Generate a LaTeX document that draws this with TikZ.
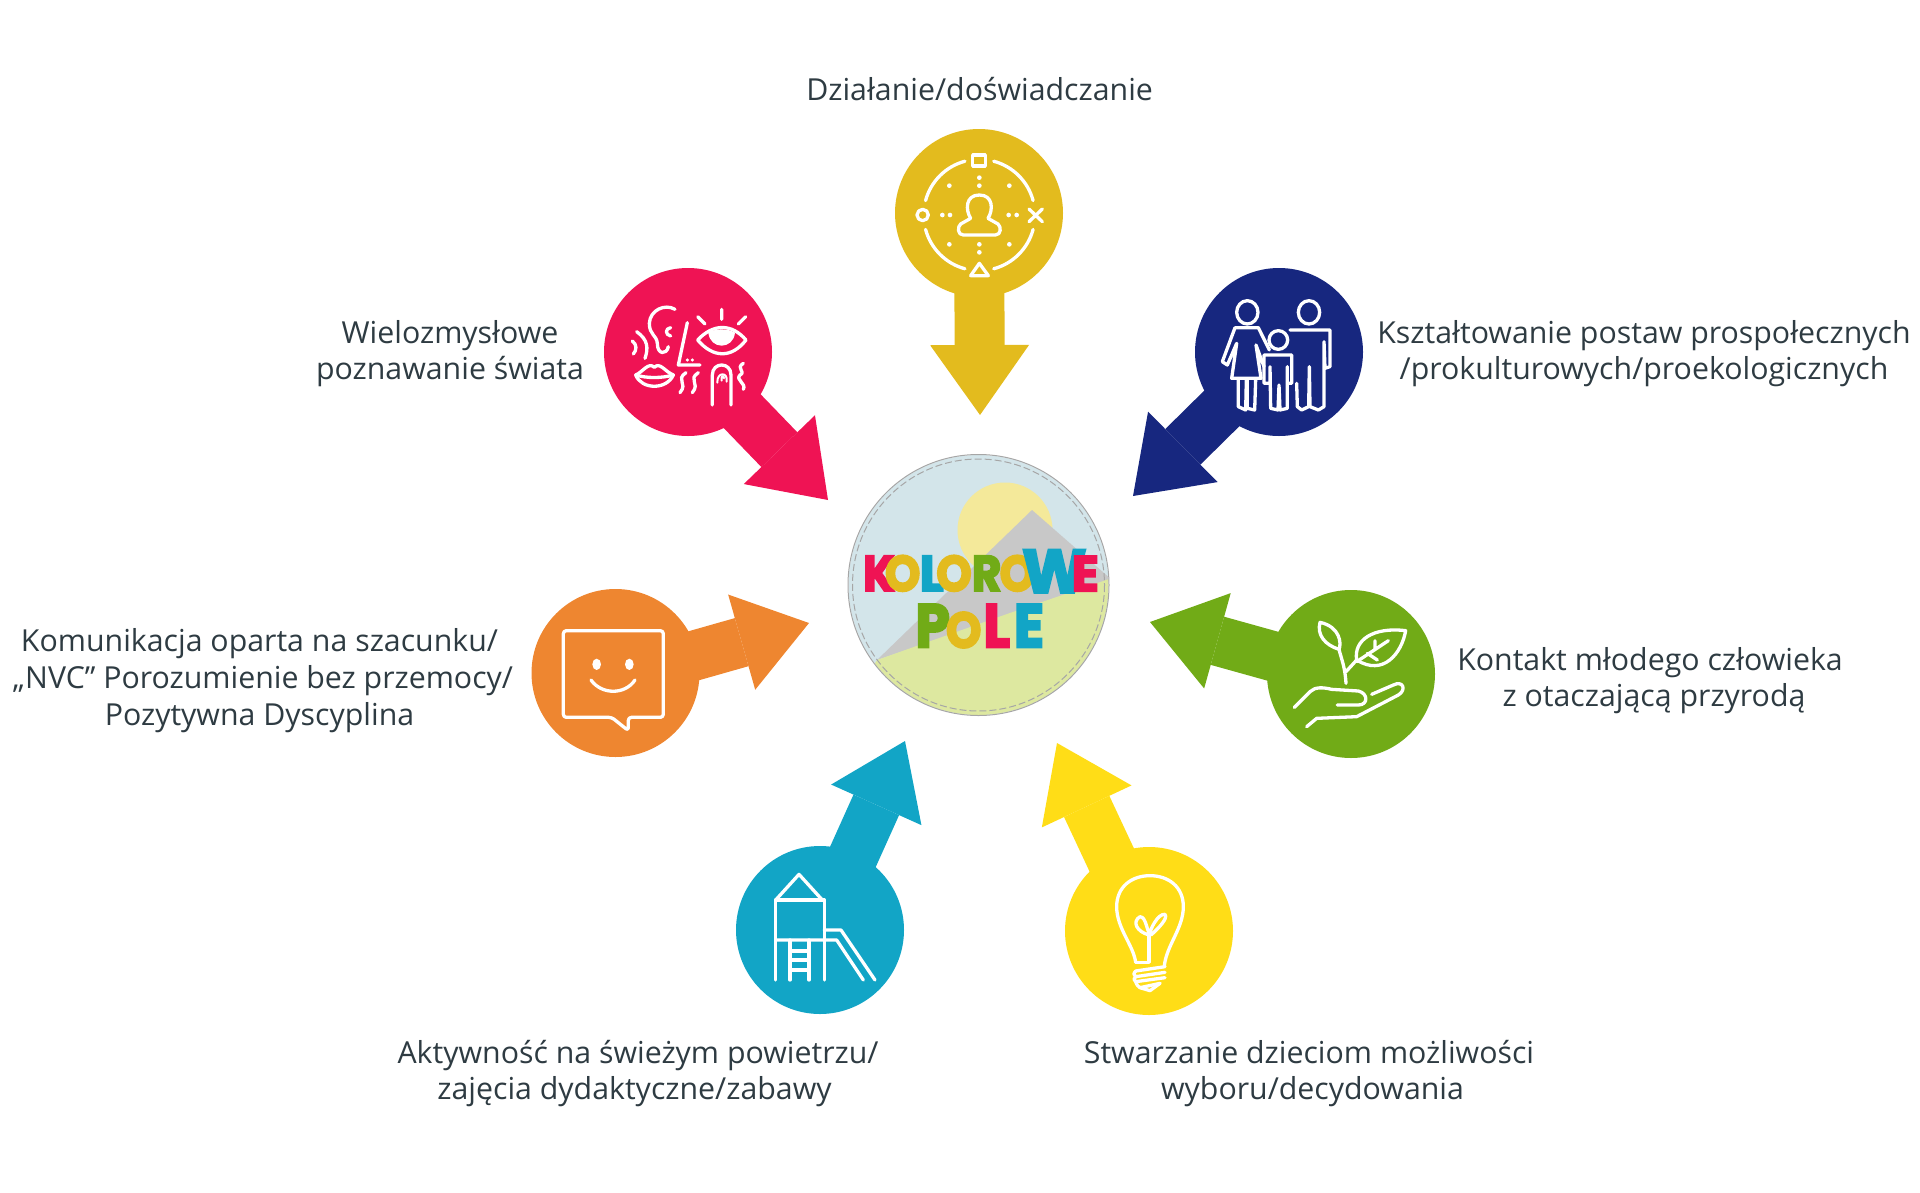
\documentclass[tikz,border=0pt]{standalone}
\usepackage{fontspec}
\setmainfont{Open Sans}
\newfontfamily\logofont[BoldFeatures={FakeBold=4}]{Poppins}
\usetikzlibrary{arrows.meta}
\definecolor{kolDzial}{HTML}{E3BB1E}
\definecolor{kolZmysly}{HTML}{EF1354}
\definecolor{kolPostawy}{HTML}{17277F}
\definecolor{kolPrzyroda}{HTML}{71AB17}
\definecolor{kolNvc}{HTML}{EE8630}
\definecolor{kolRuch}{HTML}{12A5C6}
\definecolor{kolWybor}{HTML}{FFDD17}
\definecolor{kolTekst}{HTML}{2E3B42}
\definecolor{logoNiebo}{HTML}{D3E5EA}
\definecolor{logoSlonce}{HTML}{F4E99A}
\definecolor{logoGora}{HTML}{C8C8C8}
\definecolor{logoLaka}{HTML}{DDE8A0}
\tikzset{
  kolo/.style={circle,minimum size=168pt,inner sep=0pt},
  strzala/.style={line width=50pt,-{Triangle[width=99pt,length=70pt,line width=0pt]}},
  opis/.style={align=center,inner sep=0pt,text=kolTekst,font=\fontsize{30.3}{36.7}\selectfont},
  ikona/.style={white,line width=3.3pt,line cap=round,line join=round},
  duza/.style={inner sep=0pt,font=\logofont\bfseries\fontsize{50}{50}\selectfont},
  dolna/.style={inner sep=0pt,font=\logofont\bfseries\fontsize{61}{61}\selectfont}
}
\begin{document}
\begin{tikzpicture}[x=1pt,y=-1pt]
  \useasboundingbox (0,0) rectangle (1920,1192);

  % arrows first, the discs lie over their tails
  \node[kolo] (dzial) at (979,213) {};
  \node[kolo] (zmysly) at (688,352) {};
  \node[kolo] (postawy) at (1279,352) {};
  \node[kolo] (przyroda) at (1351,674) {};
  \node[kolo] (nvc) at (615.5,673) {};
  \node[kolo] (ruch) at (820,930) {};
  \node[kolo] (wybor) at (1149,931) {};
  \coordinate (grotDzial) at (980,415);
  \coordinate (grotZmysly) at (828,500);
  \coordinate (grotPostawy) at (1133,496);
  \coordinate (grotPrzyroda) at (1150,622);
  \coordinate (grotNvc) at (809,623);
  \coordinate (grotRuch) at (905,741);
  \coordinate (grotWybor) at (1057,743);
  \draw[strzala,kolDzial] (dzial.center) -- (grotDzial);
  \draw[strzala,kolZmysly] ([xshift=-3pt]zmysly.center) -- (grotZmysly);
  \draw[strzala,kolPostawy] (postawy.center) -- (grotPostawy);
  \draw[strzala,kolPrzyroda] ([yshift=-4pt]przyroda.center) -- (grotPrzyroda);
  \draw[strzala,kolNvc] ([yshift=-5pt]nvc.center) -- (grotNvc);
  \draw[strzala,kolRuch] (ruch.center) -- (grotRuch);
  \draw[strzala,kolWybor] ([xshift=-4pt]wybor.center) -- (grotWybor);
  \fill[kolDzial] (dzial) circle (84);
  \fill[kolZmysly] (zmysly) circle (84);
  \fill[kolPostawy] (postawy) circle (84);
  \fill[kolPrzyroda] (przyroda) circle (84);
  \fill[kolNvc] (nvc) circle (84);
  \fill[kolRuch] (ruch) circle (84);
  \fill[kolWybor] (wybor) circle (84);

  % logo
  \begin{scope}
    \clip (978.5,585) circle (130);
    \fill[logoNiebo] (848,455) rectangle (1109,715);
    \fill[logoSlonce] (1005,530) circle (47.5);
    \fill[logoGora] (1032,510) -- (877,660) -- (1112,580) -- cycle;
    \fill[logoLaka] (877,660) -- (1007,614) -- (1112,578) -- (1112,720) -- (840,720) -- cycle;
  \end{scope}
  \node[circle,draw=black!35,line width=1pt,minimum size=261pt] (logo) at (978.5,585) {};
  \draw[black!35,line width=1pt,dash pattern=on 7pt off 3pt] (logo) circle (126);
  \begin{scope}[shift={(820,430)},scale=1/3]
    \node[duza,text=kolZmysly,xscale=.9] (k1) at (177,430) {K};
    \node[duza,text=kolDzial,xscale=.9] (o1) at (248,430) {O};
    \node[duza,text=kolRuch] (l1) at (335,430) {L};
    \node[duza,text=kolDzial,xscale=.9] (o2) at (402,430) {O};
    \node[duza,text=kolPrzyroda,xscale=.9] (r1) at (500,430) {R};
    \node[duza,text=kolDzial,xscale=.9] (o3) at (592,430) {O};
    \node[dolna,text=kolRuch] (w1) at (703,424) {W};
    \node[duza,text=kolZmysly] (e1) at (796,431) {E};
    \node[dolna,text=kolPrzyroda,xscale=.9] (p2) at (338,587) {P};
    \node[duza,text=kolDzial,xscale=.9] (o4) at (431,600) {O};
    \node[dolna,text=kolZmysly,xscale=.9] (l2) at (530,587) {L};
    \node[dolna,text=kolRuch,xscale=.9] (e2) at (627,587) {E};
  \end{scope}

  % icons, in the pixels of a 3x crop of each disc
  \begin{scope}[shift={(880,110)},scale=1/3,ikona]
    \draw (278,135) rectangle (316,168);
    \draw (298,460) -- (272,497) -- (325,497) -- cycle;
    \draw (128,315) circle (17);
    \draw (447,297) -- (487,335) (447,335) -- (487,297);
    \draw ([shift=(15:167)]298,315) arc (15:75:167);
    \draw ([shift=(105:167)]298,315) arc (105:165:167);
    \draw ([shift=(195:167)]298,315) arc (195:255:167);
    \draw ([shift=(285:167)]298,315) arc (285:345:167);
    \draw (272,325) .. controls (256,300) and (256,255) .. (298,255) .. controls (340,255) and (340,300) .. (324,325) -- (354,342) .. controls (364,350) and (364,375) .. (346,375) -- (250,375) .. controls (232,375) and (232,350) .. (242,342) -- cycle;
    \fill (208,227) circle (7) (388,227) circle (7) (208,403) circle (7) (388,403) circle (7);
    \fill (298,203) circle (7) (298,227) circle (7) (298,403) circle (7) (298,427) circle (7);
    \fill (187,315) circle (7) (210,315) circle (7) (386,315) circle (7) (410,315) circle (7);
  \end{scope}
  \begin{scope}[shift={(600,260)},scale=1/3,ikona]
    \draw (225,148) .. controls (195,130) and (150,150) .. (148,190) .. controls (148,225) and (170,225) .. (172,250) .. controls (172,285) and (200,285) .. (205,260);
    \draw (212,203) .. controls (195,205) and (195,225) .. (212,228);
    \draw (110,215) .. controls (145,240) and (145,265) .. (135,295);
    \draw (97,243) .. controls (112,255) and (110,270) .. (100,282);
    \draw (262,188) -- (235,315) -- (300,315);
    \fill (262,300) circle (5) (277,300) circle (5);
    \draw (293,240) .. controls (340,190) and (395,190) .. (438,240) .. controls (395,295) and (340,295) .. (293,240) -- cycle;
    \fill (325,218) .. controls (345,205) and (385,205) .. (405,218) .. controls (400,270) and (330,270) .. (325,218) -- cycle;
    \draw (365,148) -- (365,178) (293,170) -- (315,192) (437,170) -- (415,192);
    \draw (107,345) .. controls (130,335) and (145,305) .. (163,322) .. controls (180,305) and (195,335) .. (220,345) .. controls (200,390) and (125,390) .. (107,345) -- cycle;
    \draw (107,345) .. controls (140,355) and (185,355) .. (220,345);
    \draw (258,338) .. controls (225,360) and (265,368) .. (240,398);
    \draw (295,338) .. controls (262,360) and (302,368) .. (277,398);
    \draw (337,435) -- (337,345) .. controls (337,305) and (393,305) .. (393,345) -- (393,435);
    \draw[line width=2pt] (352,368) .. controls (350,335) and (385,335) .. (380,365);
    \draw[line width=2pt] (365,362) .. controls (362,345) and (372,345) .. (372,355);
    \draw (430,310) .. controls (405,325) and (440,335) .. (420,345) .. controls (405,360) and (440,370) .. (430,388);
  \end{scope}
  \begin{scope}[shift={(1190,260)},scale=1/3,ikona]
    \draw (172,157) ellipse (32 and 35);
    \draw (357,157) ellipse (32 and 35);
    \draw (265,240) circle (28);
    % mother
    \draw (135,203) -- (205,203) -- (238,270) (135,203) -- (97,305) -- (112,315) -- (140,250) -- (125,355) -- (213,355) -- (198,255) -- (222,320);
    \draw (145,358) -- (145,440) -- (167,450) -- (169,360) (172,360) -- (172,445) -- (194,450) -- (197,358);
    % father
    \draw (300,210) -- (420,210) -- (420,320) -- (405,325) -- (402,245) -- (402,440) -- (385,450) -- (360,440) -- (358,320) -- (356,440) -- (335,450) -- (322,440) -- (320,370);
    % child
    \draw (240,285) -- (305,285) -- (305,370) -- (292,370) -- (292,320) -- (292,445) -- (270,450) -- (267,375) -- (264,450) -- (242,445) -- (240,320) -- (240,370) -- (222,370) -- (222,285) -- cycle;
  \end{scope}
  \begin{scope}[shift={(1260,590)},scale=1/3,ikona]
    \draw (180,97) .. controls (240,110) and (245,160) .. (237,178) .. controls (195,165) and (170,135) .. (180,97) -- cycle;
    \draw (237,178) .. controls (245,210) and (255,230) .. (258,280);
    \draw (258,245) -- (290,210);
    \draw (290,210) .. controls (280,150) and (340,110) .. (437,122) .. controls (425,190) and (370,260) .. (290,210) -- cycle;
    \draw (290,215) -- (385,152) (345,152) -- (345,178) (322,190) -- (352,210);
    \draw (103,352) -- (150,305) .. controls (165,290) and (190,292) .. (215,298) -- (295,303) .. controls (325,310) and (325,345) .. (295,345) -- (232,345);
    \draw (140,410) -- (170,385) -- (290,380) -- (415,315) .. controls (440,300) and (430,270) .. (400,285) -- (335,313);
  \end{scope}
  \begin{scope}[shift={(530,590)},scale=1/3,ikona]
    \draw[rounded corners=3pt] (245,382) -- (100,382) -- (100,122) -- (400,122) -- (400,382) -- (295,382) -- (295,422) -- cycle;
    \fill (200,223) ellipse (13 and 17) (298,223) ellipse (13 and 17);
    \draw (183,270) .. controls (215,315) and (285,315) .. (315,270);
  \end{scope}
  \begin{scope}[shift={(735,845)},scale=1/3,ikona]
    \draw (122,165) -- (192,88) -- (262,165) -- cycle;
    \draw (122,165) -- (122,405) (268,165) -- (268,405);
    \draw (122,165) -- (268,165);
    \draw (122,285) -- (305,285) -- (385,405);
    \draw (268,255) -- (318,255) -- (420,405);
    \draw (165,285) -- (165,405) (222,285) -- (222,405);
    \draw (165,318) -- (222,318) (165,345) -- (222,345) (165,375) -- (222,375);
  \end{scope}
  \begin{scope}[shift={(1065,845)},scale=1/3,ikona]
    \draw (212,352) .. controls (205,300) and (155,250) .. (155,185) .. controls (155,125) and (200,92) .. (255,92) .. controls (310,92) and (355,125) .. (355,185) .. controls (355,250) and (305,300) .. (298,362);
    \draw (212,352) -- (252,352) -- (252,270);
    \draw (252,270) .. controls (215,260) and (200,230) .. (225,215) .. controls (245,215) and (245,265) .. (258,270) .. controls (280,250) and (310,220) .. (300,208) .. controls (280,205) and (255,250) .. (252,275);
    \draw (212,378) -- (300,365) (212,395) -- (300,382) (212,410) -- (300,398) (225,428) -- (285,415);
    \draw (212,378) .. controls (205,385) and (205,390) .. (212,395) .. controls (205,400) and (205,405) .. (212,410) .. controls (215,420) and (220,425) .. (225,428) -- (255,437) -- (285,415);
  \end{scope}

  % labels
  \node[opis] (tDzial) at (979.6,89.5) {Działanie/doświadczanie};
  \node[opis] (tZmysly) at (450,353.5) {Wielozmysłowe\\poznawanie świata};
  \node[opis] (tPostawy) at (1644,353.5) {Kształtowanie postaw prospołecznych\\/prokulturowych/proekologicznych};
  \node[opis] (tPrzyroda) at (1650,680.5) {Kontakt młodego człowieka\\\hspace*{8pt}z otaczającą przyrodą};
  \node[opis] (tNvc) at (262,680.5) {Komunikacja oparta na szacunku/\hspace*{5pt}\\\hspace*{2pt}„NVC” Porozumienie bez przemocy/\\Pozytywna Dyscyplina\hspace*{5pt}};
  \node[opis] (tRuch) at (638,1073.5) {Aktywność na świeżym powietrzu/\\zajęcia dydaktyczne/zabawy\hspace*{7pt}};
  \node[opis] (tWybor) at (1309,1073.5) {Stwarzanie dzieciom możliwości\\\hspace*{7pt}wyboru/decydowania};
\end{tikzpicture}
\end{document}
